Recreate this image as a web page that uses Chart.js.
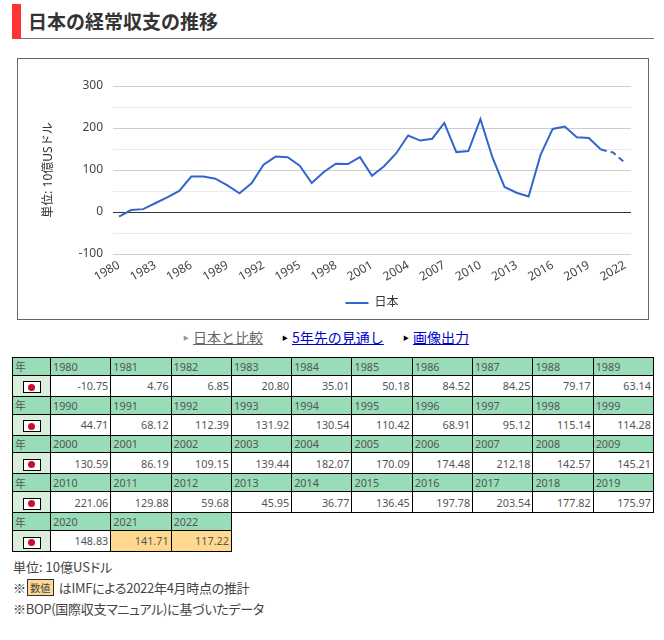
<!DOCTYPE html>
<html lang="ja">
<head>
<meta charset="utf-8">
<title>日本の経常収支の推移</title>
<script src="https://cdn.jsdelivr.net/npm/chart.js@4"></script>
<style>
body { margin: 0; background: #fff; font-family: "Noto Sans", "Noto Sans CJK JP", sans-serif; color: #333; width: 664px; height: 640px; overflow: hidden; position: relative; }
#heading { position: absolute; left: 12px; top: 4px; width: 642px; height: 34px; border-bottom: 1px solid #777; }
#heading i { position: absolute; left: 0; top: 0; width: 9px; height: 35px; background: #f33; }
#heading h1 { position: absolute; left: 16px; top: 2px; margin: 0; font-size: 19px; line-height: 30px; font-family: "Noto Sans CJK JP", sans-serif; font-weight: 700; color: #333; }
#box { position: absolute; left: 17px; top: 58px; width: 630px; height: 260px; border: 1px solid #666; }
#box canvas { display: block; }
#links { position: absolute; left: 0; top: 327px; width: 664px; font-size: 14px; line-height: 20px; font-family: "Noto Sans CJK JP", sans-serif; }
#links span { position: absolute; top: 0; white-space: nowrap; }
#links a { color: #00c; text-decoration: underline; }
#links a.cur { color: #666; }
#links b { font-size: 6px; position: absolute; top: 1px; left: -10px; color: #000; }
#links b.cur { color: #999; }
#data { position: absolute; left: 12px; top: 357px; border-collapse: collapse; table-layout: fixed; width: 641px; font-size: 10.8px; }
#data td { border: 1px solid #000; padding: 0 2px; overflow: hidden; white-space: nowrap; }
#data tr.h td { height: 16.8px; background: #99dcb8; color: #555; text-align: left; }
#data tr.v td { height: 20px; text-align: right; color: #555; background: #fff; }
#data tr.v td.flag { background: #d9efdc; text-align: center; padding: 0; }
#data tr.v td.est { background: #ffd990; }
.jp { display: inline-block; position: relative; width: 16px; height: 10px; border: 1px solid #000; background: #fff; vertical-align: middle; }
.jp::after { content: ""; position: absolute; left: 4.5px; top: 1.5px; width: 7px; height: 7px; border-radius: 50%; background: #c8102e; }
#notes { position: absolute; left: 13px; top: 556px; font-size: 13px; line-height: 21px; color: #444; font-family: "Noto Sans CJK JP", sans-serif; font-feature-settings: "palt"; }
#notes .tight { letter-spacing: -0.3px; }
#notes .mark { display: inline-block; width: 25px; height: 15px; line-height: 15px; border: 1px solid #333; background: #ffd990; font-size: 10px; text-align: center; vertical-align: 1px; margin: 0 5px 0 1px; letter-spacing: 0; }
</style>
</head>
<body>
<div id="heading"><i></i><h1>日本の経常収支の推移</h1></div>
<div id="box"><canvas id="myChart" width="630" height="260"></canvas></div>
<div id="links">
  <span style="left:193px"><b class="cur">▶</b><a class="cur" href="#">日本と比較</a></span>
  <span style="left:292px"><b>▶</b><a href="#">5年先の見通し</a></span>
  <span style="left:413px"><b>▶</b><a href="#">画像出力</a></span>
</div>
<table id="data"></table>
<div id="notes">
  <div>単位: 10億USドル</div>
  <div class="tight">※<span class="mark">数値</span>はIMFによる2022年4月時点の推計</div>
  <div class="tight">※BOP(国際収支マニュアル)に基づいたデータ</div>
</div>
<script>
const years = [1980,1981,1982,1983,1984,1985,1986,1987,1988,1989,
  1990,1991,1992,1993,1994,1995,1996,1997,1998,1999,
  2000,2001,2002,2003,2004,2005,2006,2007,2008,2009,
  2010,2011,2012,2013,2014,2015,2016,2017,2018,2019,
  2020,2021,2022];
const japan = [-10.75,4.76,6.85,20.80,35.01,50.18,84.52,84.25,79.17,63.14,
  44.71,68.12,112.39,131.92,130.54,110.42,68.91,95.12,115.14,114.28,
  130.59,86.19,109.15,139.44,182.07,170.09,174.48,212.18,142.57,145.21,
  221.06,129.88,59.68,45.95,36.77,136.45,197.78,203.54,177.82,175.97,
  148.83,141.71,117.22];
const estimated = [2021, 2022];
const seriesName = '日本';
const yTitle = '単位: 10億USドル';

// table
const table = document.getElementById('data');
let html = '<colgroup><col style="width:38px">' + '<col style="width:60.3px">'.repeat(10) + '</colgroup>';
for (let i = 0; i < years.length; i += 10) {
  const y = years.slice(i, i + 10);
  const v = japan.slice(i, i + 10);
  html += '<tr class="h"><td>年</td>' + y.map(a => '<td>' + a + '</td>').join('') + '</tr>';
  html += '<tr class="v"><td class="flag"><span class="jp"></span></td>' + v.map((a, k) =>
    '<td' + (estimated.includes(y[k]) ? ' class="est"' : '') + '>' + a.toFixed(2) + '</td>').join('') + '</tr>';
}
table.innerHTML = html;

// chart
const fontFamily = '"Noto Sans", "Noto Sans CJK JP", sans-serif';
const data = {
  labels: years,
  datasets: [{
    label: seriesName,
    data: japan,
    borderColor: '#3366cc',
    backgroundColor: '#3366cc',
    borderWidth: 2,
    pointRadius: 0,
    tension: 0,
    segment: {
      borderDash: ctx => estimated.includes(years[ctx.p1DataIndex]) ? [6, 4] : undefined
    }
  }]
};

const config = {
  type: 'line',
  data: data,
  options: {
    responsive: false,
    animation: false,
    layout: { padding: { top: 27, right: 17, bottom: 0 } },
    scales: {
      x: {
        offset: true,
        border: { display: false },
        grid: { display: false, drawTicks: false },
        afterFit: scale => { scale.height = 38; },
        ticks: {
          autoSkip: false,
          minRotation: 30,
          maxRotation: 30,
          padding: 4,
          color: '#444',
          font: { size: 12, family: fontFamily },
          callback: function (value, index) {
            return index % 3 === 0 ? years[index] : '';
          }
        }
      },
      y: {
        min: -100,
        max: 300,
        border: { display: false },
        afterFit: scale => { scale.width = 95; },
        grid: {
          drawTicks: false,
          lineWidth: 1,
          color: ctx => {
            if (ctx.tick.value === 0) return '#333';
            return ctx.tick.value % 100 === 0 ? '#cccccc' : '#ebebeb';
          }
        },
        ticks: {
          stepSize: 50,
          padding: 10,
          color: '#444',
          font: { size: 12, family: fontFamily },
          callback: value => value % 100 === 0 ? value : ''
        },
        title: {
          display: true,
          text: yTitle,
          color: '#333',
          padding: { top: 23, bottom: 0 },
          font: { size: 12, family: fontFamily }
        }
      }
    },
    plugins: {
      legend: {
        position: 'bottom',
        fullSize: false,
        labels: {
          boxWidth: 23,
          boxHeight: 0,
          padding: 5,
          color: '#333',
          font: { size: 12, family: fontFamily }
        }
      },
      tooltip: { enabled: false }
    }
  }
};

var myChart = new Chart(document.getElementById('myChart'), config);
</script>
</body>
</html>
